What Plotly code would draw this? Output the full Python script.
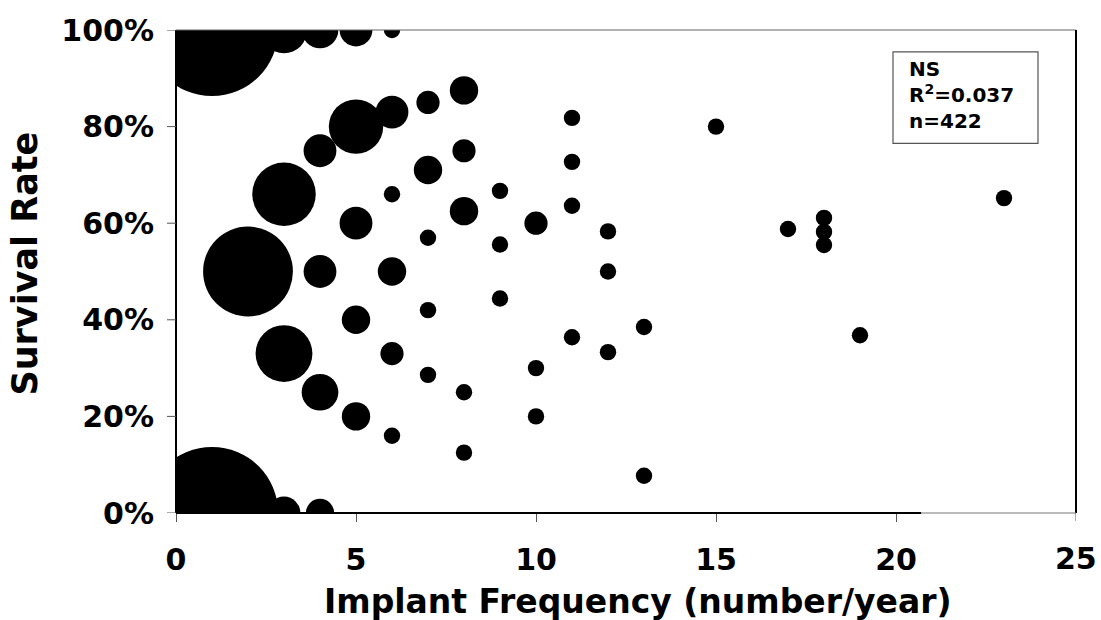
import plotly.graph_objects as go

# Implant frequency (number/year)
freq = [1, 1, 2,
        3, 3, 3, 3,
        4, 4, 4, 4, 4,
        5, 5, 5, 5, 5,
        6, 6, 6, 6, 6, 6,
        7, 7, 7, 7, 7,
        8, 8, 8, 8, 8,
        9, 9, 9,
        10, 10, 10,
        11, 11, 11, 11,
        12, 12, 12,
        13, 13,
        15, 17, 18, 18, 18, 19, 23]

# Survival rate (fraction)
survival = [1.00, 0.00, 0.50,
            1.00, 0.66, 0.33, 0.00,
            1.00, 0.75, 0.50, 0.25, 0.00,
            1.00, 0.80, 0.60, 0.40, 0.20,
            1.00, 0.83, 0.66, 0.50, 0.33, 0.16,
            0.85, 0.71, 0.57, 0.42, 0.286,
            0.875, 0.75, 0.625, 0.25, 0.125,
            0.667, 0.556, 0.444,
            0.60, 0.30, 0.20,
            0.818, 0.727, 0.636, 0.364,
            0.583, 0.50, 0.333,
            0.385, 0.077,
            0.80, 0.588, 0.611, 0.582, 0.555, 0.368, 0.652]

# Bubble size (count of cases at that point)
count = [65, 65, 30,
         8, 15, 12, 4,
         5, 4, 4, 5, 3,
         4, 11, 4, 3, 3,
         1, 4, 1, 3, 2, 1,
         2, 3, 1, 1, 1,
         3, 2, 3, 1, 1,
         1, 1, 1,
         2, 1, 1,
         1, 1, 1, 1,
         1, 1, 1,
         1, 1,
         1, 1, 1, 1, 1, 1, 1]

x_ticks = [0, 5, 10, 15, 20]
x_last_tick = 25
y_ticks = [0, 0.2, 0.4, 0.6, 0.8, 1.0]

x_title = "Implant Frequency (number/year)"
y_title = "Survival Rate"
stats_lines = ["NS", "R<sup>2</sup>=0.037", "n=422"]

FONT = "DejaVu Sans"
unit_radius = 8.2
sizeref = 1.0 / (2 * unit_radius ** 2)

W, H = 1101, 620
ML, MR, MT, MB = 176, 25, 27, 107
PW, PH = W - ML - MR, H - MT - MB


def px_x(px):
    return (px - ML) / PW


def px_y(py):
    return (H - MB - py) / PH


fig = go.Figure()
fig.add_trace(go.Scatter(
    x=freq, y=survival, mode="markers",
    marker=dict(size=count, sizemode="area", sizeref=sizeref,
                color="black", opacity=1, line=dict(width=0)),
    cliponaxis=True, hoverinfo="skip", showlegend=False,
))

tickfont = dict(family=FONT, size=30, color="black", weight="bold")
TICKC = "#555"
clear = "rgba(0,0,0,0)"

shapes = [
    # white mask left of the y axis (keeps big bubbles inside plot area)
    dict(type="rect", xref="paper", yref="paper", x0=px_x(158), x1=0,
         y0=-0.015, y1=1.015, line=dict(width=0), fillcolor="white",
         layer="above"),
    # y axis line
    dict(type="line", xref="paper", yref="paper", x0=0, x1=0, y0=0, y1=1,
         line=dict(color="black", width=2)),
    # top frame (gray, thin)
    dict(type="line", xref="paper", yref="paper", x0=0, x1=1, y0=1, y1=1,
         line=dict(color="#666", width=1.2)),
    # right frame
    dict(type="line", xref="paper", yref="paper", x0=1, x1=1, y0=0, y1=1,
         line=dict(color="black", width=2)),
    # bottom axis line: black part then thin gray part
    dict(type="line", xref="x", yref="paper", x0=0, x1=20.7, y0=0, y1=0,
         line=dict(color="black", width=2)),
    dict(type="line", xref="x", yref="paper", x0=20.7, x1=25, y0=0, y1=0,
         line=dict(color="#777", width=1)),
    # tick mark at 25
    dict(type="line", xref="x", yref="paper", x0=x_last_tick, x1=x_last_tick,
         y0=0, y1=-8 / PH, line=dict(color=TICKC, width=1)),
]
# y tick marks
for v in y_ticks:
    shapes.append(dict(type="line", xref="paper", yref="y", x0=-9 / PW, x1=0,
                       y0=v, y1=v, line=dict(color=TICKC, width=1)))
# statistics box
shapes.append(dict(type="rect", xref="paper", yref="paper",
                   x0=px_x(893), x1=px_x(1038), y0=px_y(141), y1=px_y(49),
                   line=dict(color="#555", width=1.2), fillcolor="white",
                   layer="above"))

fig.update_layout(
    width=W, height=H,
    margin=dict(l=ML, r=MR, t=MT, b=MB),
    paper_bgcolor="white", plot_bgcolor="white",
    font=dict(family=FONT, color="black"),
    xaxis=dict(
        range=[0, 25], tickvals=x_ticks,
        ticks="outside", ticklen=8, tickwidth=1, tickcolor=TICKC,
        showline=False, showgrid=False, zeroline=False,
        tickfont=tickfont, ticklabelstandoff=12,
    ),
    yaxis=dict(
        range=[0, 1], tickvals=y_ticks, tickformat=".0%",
        ticks="outside", ticklen=9, tickwidth=1, tickcolor=clear,
        showline=True, linecolor=clear, linewidth=2,
        showgrid=False, zeroline=False,
        tickfont=tickfont, ticklabelstandoff=5,
    ),
    shapes=shapes,
    annotations=[
        dict(text="<br>".join(stats_lines), xref="paper", yref="paper",
             x=px_x(907), y=px_y(52), xanchor="left", yanchor="top",
             align="left", showarrow=False,
             font=dict(family=FONT, size=20, color="black", weight="bold")),
        dict(text=str(x_last_tick), xref="x", yref="paper", x=x_last_tick, y=0,
             yanchor="top", xanchor="center", yshift=-26, showarrow=False,
             font=tickfont),
        dict(text=x_title, xref="paper", yref="paper", x=px_x(638),
             y=px_y(602), xanchor="center", yanchor="middle",
             showarrow=False,
             font=dict(family=FONT, size=33, color="black", weight="bold")),
        dict(text=y_title, xref="paper", yref="paper", x=px_x(25),
             y=px_y(262), xanchor="center", yanchor="middle", textangle=-90,
             showarrow=False,
             font=dict(family=FONT, size=35, color="black", weight="bold")),
    ],
)

fig.write_html("out.html")
